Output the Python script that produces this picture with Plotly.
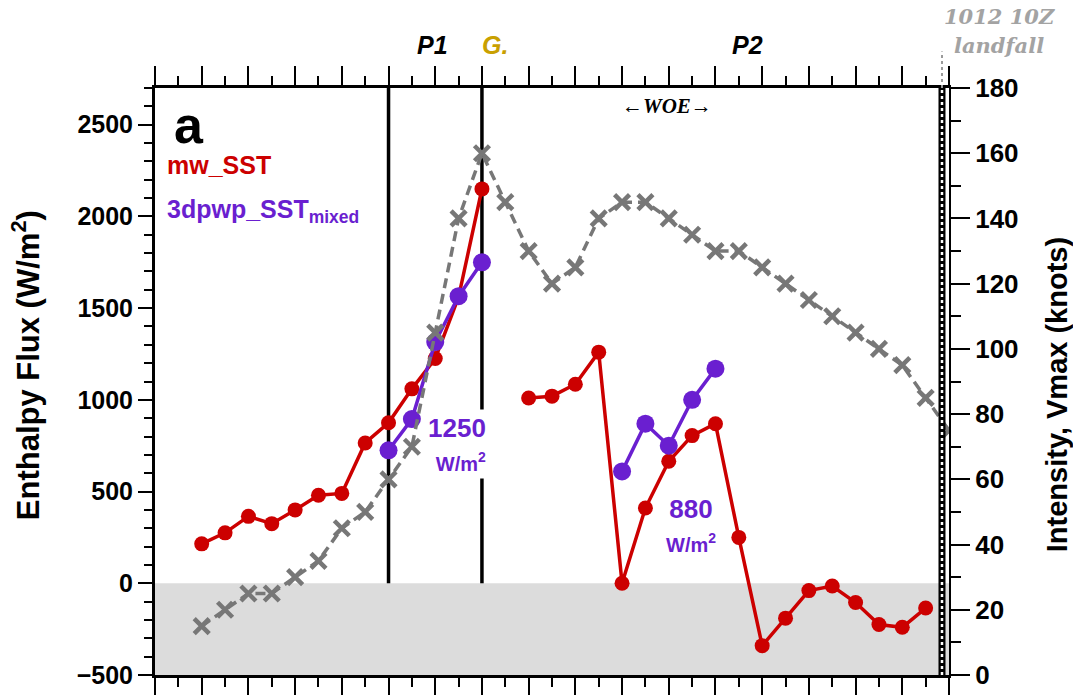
import plotly.graph_objects as go

# time index (one step per observation), intensity and enthalpy flux series
steps_vmax = list(range(2, 35))
vmax_knots = [15, 20, 25, 25, 30, 35, 45, 50, 60, 70, 105, 140, 160,
              145, 130, 120, 125, 140, 145, 145, 140, 135, 130, 130, 125,
              120, 115, 110, 105, 100, 95, 85, 75]

steps_mw = list(range(2, 34))
mw_sst = [215, 275, 365, 325, 400, 480, 490, 765, 875, 1060, 1225, 1560, 2150,
          None,
          1010, 1020, 1085, 1260, 0, 410, 665, 805, 870, 250,
          -340, -190, -40, -15, -105, -225, -240, -135]

steps_pwp_p1 = [10, 11, 12, 13, 14]
pwp_p1 = [725, 895, 1315, 1565, 1750]
steps_pwp_p2 = [20, 21, 22, 23, 24]
pwp_p2 = [610, 870, 750, 1000, 1170]

mean_p1 = round(sum(pwp_p1) / len(pwp_p1))
mean_p2 = round(sum(pwp_p2) / len(pwp_p2))

P1_START, G_TIME, LANDFALL = 10, 14, 33.7
X_MAX = 34
FLUX_RANGE = [-500, 2700]
VMAX_RANGE = [0, 180]

RED = "#cc0000"
PURPLE = "#6a1fd0"
GRAY = "#777777"
GOLD = "#c9a000"
SANS = "Liberation Sans, Arial, sans-serif"
SERIF = "Liberation Serif, DejaVu Serif, serif"
WIDE_SERIF = "DejaVu Serif, serif"

fig = go.Figure()

fig.add_trace(go.Scatter(
    x=steps_vmax, y=vmax_knots, yaxis="y2", mode="lines+markers",
    line=dict(color=GRAY, width=3.5, dash="10px,6px"),
    marker=dict(symbol="x-thin", size=15, line=dict(color=GRAY, width=4.5)),
    showlegend=False, name="Vmax"))

fig.add_trace(go.Scatter(
    x=steps_mw, y=mw_sst, mode="lines+markers", connectgaps=False,
    line=dict(color=RED, width=3.5),
    marker=dict(symbol="circle", size=15, color=RED),
    showlegend=False, name="mw_SST"))

for xs, ys in [(steps_pwp_p1, pwp_p1), (steps_pwp_p2, pwp_p2)]:
    fig.add_trace(go.Scatter(
        x=xs, y=ys, mode="lines+markers",
        line=dict(color=PURPLE, width=3.5),
        marker=dict(symbol="circle", size=18, color=PURPLE),
        showlegend=False, name="3dpwp_SST_mixed"))

shapes = [
    # negative-flux shading
    dict(type="rect", xref="x", yref="y", x0=0, x1=X_MAX, y0=FLUX_RANGE[0], y1=0,
         fillcolor="#dcdcdc", line=dict(width=0), layer="below"),
    # period boundaries
    dict(type="line", xref="x", yref="paper", x0=P1_START, x1=P1_START, y0=0, y1=1,
         line=dict(color="black", width=3.5), layer="below"),
    dict(type="line", xref="x", yref="paper", x0=G_TIME, x1=G_TIME, y0=0, y1=1,
         line=dict(color="black", width=3.5), layer="below"),
    # landfall marker
    dict(type="line", xref="x", yref="paper", x0=LANDFALL, x1=LANDFALL, y0=0, y1=1,
         line=dict(color="black", width=7)),
    dict(type="line", xref="x", yref="paper", x0=LANDFALL, x1=LANDFALL, y0=0, y1=1,
         line=dict(color="white", width=2.5, dash="dot")),
    dict(type="line", xref="x", yref="paper", x0=LANDFALL, x1=LANDFALL, y0=1, y1=1.062,
         line=dict(color="#9a9a9a", width=2, dash="dot")),
]

ann = []


def text(x, y, s, size, color="black", family=SANS, weight="bold", style="normal",
         xanchor="center", xref="paper", yref="paper", **kw):
    ann.append(dict(x=x, y=y, xref=xref, yref=yref, text=s, showarrow=False,
                    xanchor=xanchor, yanchor="middle",
                    font=dict(family=family, size=size, color=color,
                              weight=weight, style=style), **kw))


text(0.043, 0.937, "a", 52)
text(0.012, 0.868, "mw_SST", 25, RED, xanchor="left")
text(0.012, 0.79, "3dpwp_SST<sub>mixed</sub>", 25, PURPLE, xanchor="left")

text(0.350, 1.073, "P1", 25, style="italic")
text(0.428, 1.073, "G.", 25, GOLD, style="italic")
text(0.746, 1.073, "P2", 25, style="italic")
text(0.645, 0.969, "←WOE→", 21, family=SERIF, style="italic")
text(1.063, 1.122, "1012 10Z", 21, "#a3a3a3", family=WIDE_SERIF, style="italic")
text(1.063, 1.073, "landfall", 21, "#a3a3a3", family=WIDE_SERIF, style="italic")

text(-0.163, 0.527, "Enthalpy Flux (W/m<sup>2</sup>)", 31, textangle=-90)
text(1.137, 0.478, "Intensity, Vmax (knots)", 29, textangle=-90)

text(14.35, 760, f"{mean_p1}<br><span style='font-size:20px'>W/m<sup>2</sup></span>",
     26, PURPLE, xref="x", yref="y", xanchor="right", align="right",
     bgcolor="white", borderpad=3)
text(22.95, 318, f"{mean_p2}<br><span style='font-size:20px'>W/m<sup>2</sup></span>",
     26, PURPLE, xref="x", yref="y", align="center")

fig.update_layout(
    width=1073, height=695,
    margin=dict(l=155, r=124, t=88, b=20, autoexpand=False),
    paper_bgcolor="white", plot_bgcolor="white",
    font=dict(family=SANS, color="black"),
    shapes=shapes, annotations=ann,
    xaxis=dict(range=[0, X_MAX], showgrid=False, zeroline=False, automargin=False,
               showline=True, linecolor="black", linewidth=3, mirror="ticks",
               ticks="outside", tick0=0, dtick=2, ticklen=19, tickwidth=2,
               tickcolor="black", showticklabels=False,
               minor=dict(dtick=1, ticks="outside", ticklen=9, tickwidth=2,
                          tickcolor="black")),
    yaxis=dict(range=FLUX_RANGE, showgrid=False, zeroline=False, automargin=False,
               showline=True, linecolor="black", linewidth=3,
               ticks="outside", tick0=0, dtick=500, ticklen=14, tickwidth=2,
               tickcolor="black",
               tickfont=dict(family=SANS, size=25, weight="bold"),
               minor=dict(dtick=100, ticks="outside", ticklen=8, tickwidth=1.5,
                          tickcolor="black")),
    yaxis2=dict(range=VMAX_RANGE, overlaying="y", side="right", showgrid=False,
                zeroline=False, automargin=False, showline=True,
                linecolor="black", linewidth=2,
                ticks="outside", tick0=0, dtick=20, ticklen=19, tickwidth=2,
                tickcolor="black",
                tickfont=dict(family=SANS, size=26, weight="bold"),
                minor=dict(dtick=10, ticks="outside", ticklen=10, tickwidth=1.5,
                           tickcolor="black")),
)

fig.write_html("out.html")
